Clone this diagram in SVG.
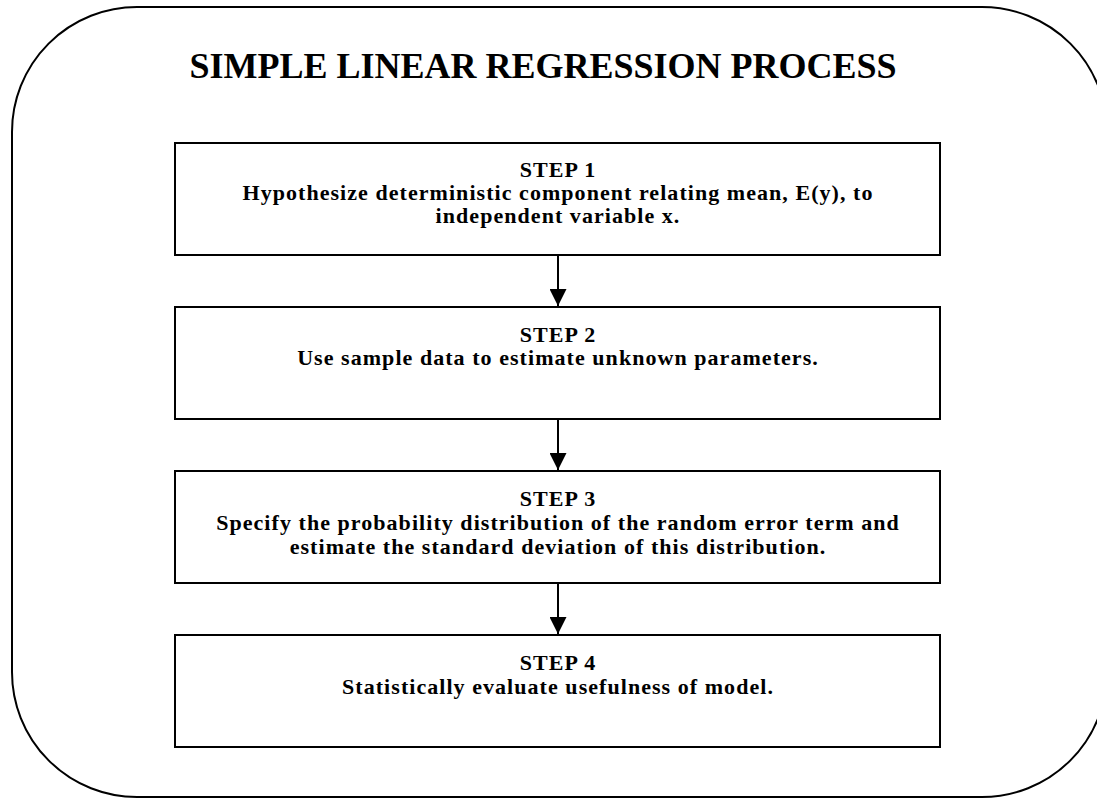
<svg xmlns="http://www.w3.org/2000/svg" width="1097" height="798" viewBox="0 0 1097 798">
<style>
.box{fill:#fff;stroke:#000;stroke-width:2}
.t{font-family:"Liberation Serif","Times New Roman",serif;font-weight:bold;font-size:22px;letter-spacing:1.05px;text-anchor:middle;fill:#000}
.title{font-family:"Liberation Serif","Times New Roman",serif;font-weight:bold;font-size:36px;text-anchor:middle;fill:#000}
.c{stroke:#000;stroke-width:2;fill:none}
</style>
<defs>
<marker id="ah" viewBox="0 0 10 10" refX="10" refY="5" markerWidth="8.5" markerHeight="8.5" markerUnits="strokeWidth" orient="auto">
<path d="M0,0 L10,5 L0,10 z" fill="#000"/>
</marker>
</defs>
<rect x="0" y="0" width="1097" height="798" fill="#fff"/>
<rect id="frame" x="12" y="7" width="1095" height="790" rx="125" ry="125" fill="none" stroke="#000" stroke-width="2"/>
<text class="title" x="543" y="78">SIMPLE LINEAR REGRESSION PROCESS</text>
<g id="connectors">
<line class="c" x1="558" y1="255" x2="558" y2="306" marker-end="url(#ah)"/>
<line class="c" x1="558" y1="419" x2="558" y2="470" marker-end="url(#ah)"/>
<line class="c" x1="558" y1="583" x2="558" y2="634" marker-end="url(#ah)"/>
</g>
<g id="step1">
<rect class="box" x="175" y="143" width="765" height="112"/>
<text class="t" x="558" y="177">STEP 1</text>
<text class="t" x="558" y="200">Hypothesize deterministic component relating mean, E(y), to</text>
<text class="t" x="558" y="223">independent variable x.</text>
</g>
<g id="step2">
<rect class="box" x="175" y="307" width="765" height="112"/>
<text class="t" x="558" y="342">STEP 2</text>
<text class="t" x="558" y="365">Use sample data to estimate unknown parameters.</text>
</g>
<g id="step3">
<rect class="box" x="175" y="471" width="765" height="112"/>
<text class="t" x="558" y="506">STEP 3</text>
<text class="t" x="558" y="530">Specify the probability distribution of the random error term and</text>
<text class="t" x="558" y="554">estimate the standard deviation of this distribution.</text>
</g>
<g id="step4">
<rect class="box" x="175" y="635" width="765" height="112"/>
<text class="t" x="558" y="670">STEP 4</text>
<text class="t" x="558" y="694">Statistically evaluate usefulness of model.</text>
</g>
</svg>
